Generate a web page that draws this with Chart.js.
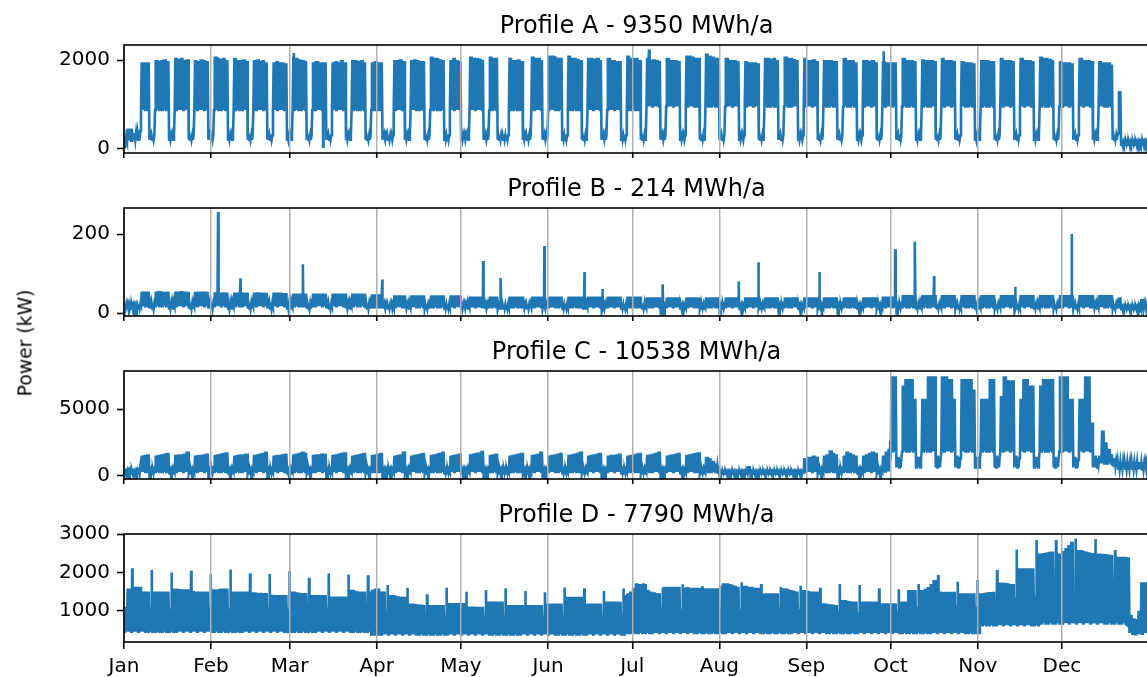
<!DOCTYPE html>
<html>
<head>
<meta charset="utf-8">
<script src="https://cdn.jsdelivr.net/npm/chart.js@4/dist/chart.umd.min.js"></script>
<style>
  html, body { margin: 0; padding: 0; background: #fff; width: 1147px; height: 677px; overflow: hidden; position: relative; }
  canvas.panel { position: absolute; left: 0; }
  #ylabel {
    position: absolute; left: 25px; top: 343px;
    transform: translate(-50%, -50%) rotate(-90deg);
    font-family: 'DejaVu Sans'; font-size: 18.8px; white-space: nowrap; color: #000;
  }
</style>
</head>
<body>
<canvas id="chartA" class="panel" width="1150" height="150" style="top:8px"></canvas>
<canvas id="chartB" class="panel" width="1150" height="150" style="top:171px"></canvas>
<canvas id="chartC" class="panel" width="1150" height="150" style="top:334px"></canvas>
<canvas id="chartD" class="panel" width="1150" height="180" style="top:497px"></canvas>
<div id="ylabel">Power (kW)</div>

<script>
// x axis: days of the year 2015 (day 0 = Thu 1 Jan)
const monthStarts = [0, 31, 59, 90, 120, 151, 181, 212, 243, 273, 304, 334];
const monthLabels = ['Jan', 'Feb', 'Mar', 'Apr', 'May', 'Jun', 'Jul', 'Aug', 'Sep', 'Oct', 'Nov', 'Dec'];

const titles = ['Profile A - 9350 MWh/a', 'Profile B - 214 MWh/a', 'Profile C - 10538 MWh/a', 'Profile D - 7790 MWh/a'];

const yTicksA = [0, 2000];
const yTicksB = [0, 200];
const yTicksC = [0, 5000];
const yTicksD = [1000, 2000, 3000];

// daily highs / lows in kW, one row per calendar week (Mon..Sun)
const aHigh = [
  [250, 450, 450, 350],
  [350, 400, 1950, 1950, 1950, 300, 300],
  [2000, 1980, 2000, 2020, 1980, 300, 300],
  [2050, 2030, 2050, 2000, 2020, 300, 300],
  [2000, 1980, 2020, 2000, 1980, 320, 300],
  [2080, 2050, 2030, 2050, 2000, 300, 300],
  [2050, 2000, 2000, 2020, 1980, 300, 300],
  [2000, 2020, 1980, 2000, 1950, 300, 300],
  [1950, 1980, 1950, 1950, 1930, 300, 300],
  [2050, 2050, 2020, 2000, 1980, 300, 300],
  [1950, 1980, 1950, 1950, 1950, 300, 300],
  [1950, 1980, 1950, 2000, 1950, 300, 300],
  [2000, 2000, 1980, 2000, 1950, 300, 300],
  [1950, 1980, 1950, 1950, 300, 300, 300],
  [300, 2000, 2000, 2020, 1980, 300, 300],
  [2000, 2020, 2000, 1980, 1980, 300, 300],
  [2080, 2050, 2050, 2020, 2000, 300, 300],
  [2000, 2050, 2000, 1980, 300, 300, 300],
  [2080, 2050, 2050, 2030, 2000, 300, 300],
  [2080, 2050, 2050, 300, 300, 300, 300],
  [2050, 2000, 2000, 2020, 1980, 300, 300],
  [300, 2080, 2050, 2050, 2000, 300, 300],
  [2100, 2100, 2080, 2050, 2050, 300, 300],
  [2100, 2050, 2050, 2030, 2000, 300, 300],
  [2050, 2050, 2030, 2050, 2000, 300, 300],
  [2050, 2000, 2000, 1980, 1980, 300, 300],
  [2100, 2050, 2050, 2050, 2000, 300, 300],
  [2050, 2000, 2020, 2000, 1980, 300, 300],
  [2050, 2000, 2000, 2000, 1980, 300, 300],
  [2100, 2100, 2080, 2050, 2050, 300, 300],
  [2150, 2100, 2080, 2050, 2050, 300, 300],
  [2050, 2000, 2000, 2000, 1980, 300, 300],
  [1980, 1950, 1950, 1950, 1930, 300, 300],
  [2050, 2050, 2030, 2050, 2000, 300, 300],
  [2080, 2050, 2050, 2030, 2000, 300, 300],
  [2050, 2000, 2000, 2020, 1980, 300, 300],
  [2000, 2000, 2000, 1980, 1980, 300, 300],
  [2050, 2000, 2000, 2000, 1950, 300, 300],
  [2000, 2000, 1980, 2000, 1950, 300, 300],
  [1980, 1950, 1950, 1950, 1950, 300, 300],
  [2050, 2000, 2000, 2000, 1980, 300, 300],
  [2020, 2000, 2000, 2000, 1980, 300, 300],
  [2050, 2000, 2000, 2000, 1980, 300, 300],
  [1980, 1950, 1950, 1950, 1930, 300, 300],
  [2000, 2000, 2000, 1980, 1980, 300, 300],
  [2050, 2000, 2000, 2000, 1980, 300, 300],
  [2050, 2000, 2000, 2000, 1980, 300, 300],
  [2080, 2050, 2050, 2030, 2000, 300, 300],
  [1980, 1950, 1950, 1950, 1930, 300, 300],
  [2050, 2000, 2000, 2000, 1980, 300, 300],
  [1980, 1950, 1950, 1950, 1900, 300, 300],
  [1300, 150, 150, 150, 150, 150, 150],
  [150, 150, 150, 150]
].flat();

const aLow = [
  [30, 180, 180, 180],
  [200, 200, 870, 870, 870, 200, 200],
  [870, 870, 870, 870, 870, 200, 200],
  [870, 870, 870, 870, 870, 200, 200],
  [870, 870, 870, 870, 870, 200, 200],
  [870, 870, 870, 870, 870, 200, 200],
  [870, 870, 870, 870, 870, 200, 200],
  [870, 870, 870, 870, 870, 200, 200],
  [870, 870, 870, 870, 870, 200, 200],
  [870, 870, 870, 870, 870, 200, 200],
  [870, 870, 870, 870, 870, 200, 200],
  [870, 870, 870, 870, 870, 200, 200],
  [870, 870, 870, 870, 870, 200, 200],
  [870, 870, 870, 870, 200, 200, 200],
  [200, 870, 870, 870, 870, 200, 200],
  [870, 870, 870, 870, 870, 200, 200],
  [870, 870, 870, 870, 870, 200, 200],
  [870, 870, 870, 870, 200, 200, 200],
  [870, 870, 870, 870, 870, 200, 200],
  [870, 870, 870, 200, 200, 200, 200],
  [870, 870, 870, 870, 870, 200, 200],
  [200, 870, 870, 870, 870, 200, 200],
  [870, 870, 870, 870, 870, 200, 200],
  [870, 870, 870, 870, 870, 200, 200],
  [870, 870, 870, 870, 870, 200, 200],
  [870, 870, 870, 870, 870, 200, 200],
  [870, 870, 870, 870, 870, 200, 200],
  [950, 950, 950, 950, 950, 200, 200],
  [950, 950, 950, 950, 950, 200, 200],
  [950, 950, 950, 950, 950, 200, 200],
  [950, 950, 950, 950, 950, 200, 200],
  [950, 950, 950, 950, 950, 200, 200],
  [950, 950, 950, 950, 950, 200, 200],
  [950, 950, 950, 950, 950, 200, 200],
  [950, 950, 950, 950, 950, 200, 200],
  [950, 950, 950, 950, 950, 200, 200],
  [950, 950, 950, 950, 950, 200, 200],
  [950, 950, 950, 950, 950, 200, 200],
  [950, 950, 950, 950, 950, 200, 200],
  [950, 950, 950, 950, 950, 200, 200],
  [950, 950, 950, 950, 950, 200, 200],
  [950, 950, 950, 950, 950, 200, 200],
  [950, 950, 950, 950, 950, 200, 200],
  [950, 950, 950, 950, 950, 200, 200],
  [950, 950, 950, 950, 950, 200, 200],
  [950, 950, 950, 950, 950, 200, 200],
  [950, 950, 950, 950, 950, 200, 200],
  [950, 950, 950, 950, 950, 200, 200],
  [950, 950, 950, 950, 950, 200, 200],
  [950, 950, 950, 950, 950, 200, 200],
  [950, 950, 950, 950, 950, 200, 200],
  [350, 90, 90, 90, 90, 90, 90],
  [90, 90, 90, 90]
].flat();

const aSpikeDays = [60.5, 70.9, 187.0, 270.5];
const aSpikeValues = [2160, 40, 2240, 2200];

const bHigh = [
  [22, 22, 20, 20],
  [20, 22, 55, 55, 55, 25, 25],
  [55, 56, 55, 54, 55, 25, 25],
  [55, 55, 56, 55, 54, 25, 25],
  [54, 55, 55, 55, 54, 25, 25],
  [53, 52, 52, 53, 52, 25, 25],
  [52, 52, 53, 52, 52, 25, 25],
  [52, 53, 52, 52, 51, 25, 25],
  [52, 52, 52, 51, 51, 25, 25],
  [50, 50, 50, 50, 50, 24, 24],
  [50, 50, 50, 50, 50, 24, 24],
  [50, 50, 50, 50, 50, 24, 24],
  [50, 50, 50, 50, 50, 24, 24],
  [48, 48, 48, 48, 22, 22, 22],
  [22, 45, 45, 45, 45, 22, 22],
  [45, 45, 45, 45, 45, 22, 22],
  [45, 45, 45, 45, 45, 22, 22],
  [45, 45, 45, 45, 22, 22, 22],
  [42, 42, 42, 42, 42, 22, 22],
  [42, 42, 42, 22, 22, 22, 22],
  [42, 42, 42, 42, 42, 22, 22],
  [22, 42, 42, 42, 42, 22, 22],
  [42, 42, 42, 42, 42, 22, 22],
  [42, 42, 42, 42, 42, 22, 22],
  [42, 42, 42, 42, 42, 22, 22],
  [42, 42, 42, 42, 42, 22, 22],
  [42, 42, 42, 42, 42, 22, 22],
  [40, 40, 40, 40, 40, 20, 20],
  [40, 40, 40, 40, 40, 20, 20],
  [40, 40, 40, 40, 40, 20, 20],
  [40, 40, 40, 40, 40, 20, 20],
  [40, 40, 40, 40, 40, 20, 20],
  [40, 40, 40, 40, 40, 20, 20],
  [40, 40, 40, 40, 40, 20, 20],
  [40, 40, 40, 40, 40, 20, 20],
  [40, 40, 40, 40, 40, 20, 20],
  [40, 40, 40, 40, 40, 20, 20],
  [40, 40, 40, 40, 40, 20, 20],
  [40, 40, 40, 40, 40, 20, 20],
  [42, 42, 42, 42, 42, 20, 20],
  [46, 46, 46, 46, 46, 22, 22],
  [46, 46, 46, 46, 46, 22, 22],
  [46, 46, 46, 46, 46, 22, 22],
  [46, 46, 46, 46, 46, 22, 22],
  [46, 46, 46, 46, 46, 22, 22],
  [46, 46, 46, 46, 46, 22, 22],
  [46, 46, 46, 46, 46, 22, 22],
  [46, 46, 46, 46, 46, 22, 22],
  [46, 46, 46, 46, 46, 22, 22],
  [46, 46, 46, 46, 46, 22, 22],
  [46, 46, 46, 46, 46, 22, 22],
  [40, 16, 16, 16, 16, 16, 16],
  [18, 36, 22, 18]
].flat();

const bLow = [
  [12, 12, 12, 12],
  [12, 12, 18, 18, 18, 12, 12],
  [18, 18, 18, 18, 18, 12, 12],
  [18, 18, 18, 18, 18, 12, 12],
  [18, 18, 18, 18, 18, 12, 12],
  [18, 18, 18, 18, 18, 12, 12],
  [18, 18, 18, 18, 18, 12, 12],
  [18, 18, 18, 18, 18, 12, 12],
  [18, 18, 18, 18, 18, 12, 12],
  [18, 18, 18, 18, 18, 12, 12],
  [18, 18, 18, 18, 18, 12, 12],
  [18, 18, 18, 18, 18, 12, 12],
  [18, 18, 18, 18, 18, 12, 12],
  [15, 15, 15, 15, 12, 12, 12],
  [12, 15, 15, 15, 15, 12, 12],
  [15, 15, 15, 15, 15, 12, 12],
  [15, 15, 15, 15, 15, 12, 12],
  [15, 15, 15, 15, 12, 12, 12],
  [15, 15, 15, 15, 15, 12, 12],
  [15, 15, 15, 12, 12, 12, 12],
  [15, 15, 15, 15, 15, 12, 12],
  [12, 15, 15, 15, 15, 12, 12],
  [15, 15, 15, 15, 15, 12, 12],
  [15, 15, 15, 15, 15, 12, 12],
  [15, 15, 15, 15, 15, 12, 12],
  [15, 15, 15, 15, 15, 12, 12],
  [15, 15, 15, 15, 15, 12, 12],
  [15, 15, 15, 15, 15, 12, 12],
  [15, 15, 15, 15, 15, 12, 12],
  [15, 15, 15, 15, 15, 12, 12],
  [15, 15, 15, 15, 15, 12, 12],
  [15, 15, 15, 15, 15, 12, 12],
  [15, 15, 15, 15, 15, 12, 12],
  [15, 15, 15, 15, 15, 12, 12],
  [15, 15, 15, 15, 15, 12, 12],
  [15, 15, 15, 15, 15, 12, 12],
  [15, 15, 15, 15, 15, 12, 12],
  [15, 15, 15, 15, 15, 12, 12],
  [15, 15, 15, 15, 15, 12, 12],
  [15, 15, 15, 15, 15, 12, 12],
  [15, 15, 15, 15, 15, 12, 12],
  [15, 15, 15, 15, 15, 12, 12],
  [15, 15, 15, 15, 15, 12, 12],
  [15, 15, 15, 15, 15, 12, 12],
  [15, 15, 15, 15, 15, 12, 12],
  [15, 15, 15, 15, 15, 12, 12],
  [15, 15, 15, 15, 15, 12, 12],
  [15, 15, 15, 15, 15, 12, 12],
  [15, 15, 15, 15, 15, 12, 12],
  [15, 15, 15, 15, 15, 12, 12],
  [15, 15, 15, 15, 15, 12, 12],
  [15, 10, 10, 10, 10, 10, 10],
  [10, 12, 10, 10]
].flat();

const bSpikeDays = [33.5, 41.5, 63.7, 92.0, 127.9, 134.1, 149.7, 164.0, 170.3, 191.8, 218.9, 225.9, 247.6, 274.6, 281.6, 288.5, 317.3, 337.5];
const bSpikeValues = [256, 88, 124, 85, 132, 89, 170, 104, 61, 73, 80, 129, 104, 162, 181, 94, 67, 200];

const cHigh = [
  [300, 350, 350, 300],
  [350, 600, 1500, 1550, 1600, 400, 400],
  [1500, 1550, 1600, 1650, 1700, 400, 400],
  [1550, 1600, 1600, 1650, 1800, 400, 400],
  [1500, 1550, 1550, 1600, 1650, 400, 400],
  [1550, 1600, 1650, 1700, 1750, 400, 400],
  [1500, 1550, 1600, 1600, 1650, 400, 400],
  [1550, 1600, 1650, 1700, 1800, 400, 400],
  [1500, 1550, 1550, 1600, 1650, 400, 400],
  [1600, 1650, 1700, 1800, 1700, 400, 400],
  [1550, 1600, 1600, 1650, 1650, 400, 400],
  [1550, 1600, 1650, 1700, 1750, 400, 400],
  [1500, 1550, 1600, 1650, 1700, 400, 400],
  [1550, 1600, 1650, 1700, 400, 400, 400],
  [400, 1500, 1550, 1600, 1800, 400, 400],
  [1500, 1550, 1600, 1650, 1700, 400, 400],
  [1550, 1600, 1650, 1700, 1800, 400, 400],
  [1500, 1550, 1600, 1650, 400, 400, 400],
  [1600, 1650, 1700, 1750, 1850, 400, 400],
  [1550, 1600, 1650, 400, 400, 400, 400],
  [1500, 1550, 1600, 1650, 1700, 400, 400],
  [400, 1550, 1600, 1650, 1800, 400, 400],
  [1500, 1550, 1600, 1650, 1700, 400, 400],
  [1550, 1600, 1650, 1700, 1800, 400, 400],
  [1500, 1550, 1600, 1650, 1700, 400, 400],
  [1500, 1550, 1550, 1600, 1650, 400, 400],
  [1500, 1550, 1600, 1650, 1700, 400, 400],
  [1550, 1600, 1650, 1700, 1800, 400, 400],
  [1500, 1550, 1600, 1650, 1700, 400, 400],
  [1550, 1600, 1650, 1700, 1750, 400, 400],
  [1400, 1300, 1100, 900, 700, 280, 280],
  [280, 280, 280, 280, 280, 280, 280],
  [280, 700, 280, 280, 280, 280, 280],
  [280, 280, 280, 280, 280, 280, 280],
  [280, 280, 280, 280, 280, 280, 280],
  [1300, 1400, 1400, 1500, 1400, 400, 400],
  [1500, 1600, 1900, 1700, 1600, 400, 400],
  [1500, 1800, 1700, 1600, 1500, 400, 400],
  [1500, 1600, 1700, 1800, 1700, 400, 400],
  [1500, 1800, 2000, 7500, 7500, 1400, 1200],
  [6800, 7300, 7300, 7300, 5800, 1400, 1200],
  [5800, 5800, 7500, 7500, 7500, 1500, 1300],
  [7500, 7500, 7300, 7300, 5800, 1500, 1300],
  [7300, 7300, 7300, 7300, 6500, 1400, 1200],
  [5800, 5800, 5800, 7300, 7300, 1500, 1300],
  [6000, 7500, 7200, 7200, 7200, 1500, 1300],
  [5800, 7300, 7300, 6800, 6800, 1400, 1200],
  [6800, 7300, 7300, 7300, 7300, 1400, 1200],
  [7500, 7500, 7500, 5800, 5800, 1400, 1200],
  [5800, 5800, 7500, 7500, 4000, 1500, 1300],
  [1500, 3400, 2500, 2000, 1600, 1300, 1100],
  [1000, 1000, 1000, 1000, 1000, 1000, 1000],
  [1000, 950, 900, 900]
].flat();

const cLow = [
  [150, 150, 150, 150],
  [150, 150, 250, 250, 250, 150, 150],
  [250, 250, 250, 250, 250, 150, 150],
  [250, 250, 250, 250, 250, 150, 150],
  [250, 250, 250, 250, 250, 150, 150],
  [250, 250, 250, 250, 250, 150, 150],
  [250, 250, 250, 250, 250, 150, 150],
  [250, 250, 250, 250, 250, 150, 150],
  [250, 250, 250, 250, 250, 150, 150],
  [250, 250, 250, 250, 250, 150, 150],
  [250, 250, 250, 250, 250, 150, 150],
  [250, 250, 250, 250, 250, 150, 150],
  [250, 250, 250, 250, 250, 150, 150],
  [250, 250, 250, 250, 150, 150, 150],
  [150, 250, 250, 250, 250, 150, 150],
  [250, 250, 250, 250, 250, 150, 150],
  [250, 250, 250, 250, 250, 150, 150],
  [250, 250, 250, 250, 150, 150, 150],
  [250, 250, 250, 250, 250, 150, 150],
  [250, 250, 250, 150, 150, 150, 150],
  [250, 250, 250, 250, 250, 150, 150],
  [150, 250, 250, 250, 250, 150, 150],
  [250, 250, 250, 250, 250, 150, 150],
  [250, 250, 250, 250, 250, 150, 150],
  [250, 250, 250, 250, 250, 150, 150],
  [250, 250, 250, 250, 250, 150, 150],
  [250, 250, 250, 250, 250, 150, 150],
  [250, 250, 250, 250, 250, 150, 150],
  [250, 250, 250, 250, 250, 150, 150],
  [250, 250, 250, 250, 250, 150, 150],
  [250, 250, 250, 250, 200, 130, 130],
  [130, 130, 130, 130, 130, 130, 130],
  [130, 130, 130, 130, 130, 130, 130],
  [130, 130, 130, 130, 130, 130, 130],
  [130, 130, 130, 130, 130, 130, 130],
  [250, 250, 250, 250, 250, 150, 150],
  [250, 250, 250, 250, 250, 150, 150],
  [250, 250, 250, 250, 250, 150, 150],
  [250, 250, 250, 250, 250, 150, 150],
  [300, 300, 300, 1800, 1800, 600, 600],
  [1800, 1800, 1800, 1800, 1800, 600, 600],
  [1800, 1800, 1800, 1800, 1800, 600, 600],
  [1800, 1800, 1800, 1800, 1800, 600, 600],
  [1800, 1800, 1800, 1800, 1800, 600, 600],
  [1800, 1800, 1800, 1800, 1800, 600, 600],
  [1800, 1800, 1800, 1800, 1800, 600, 600],
  [1800, 1800, 1800, 1800, 1800, 600, 600],
  [1800, 1800, 1800, 1800, 1800, 600, 600],
  [1800, 1800, 1800, 1800, 1800, 600, 600],
  [1800, 1800, 1800, 1800, 1800, 600, 600],
  [900, 900, 900, 900, 900, 700, 700],
  [500, 500, 500, 500, 500, 500, 500],
  [450, 450, 450, 450]
].flat();

const cSpikeDays = [];
const cSpikeValues = [];

const dHigh = [
  [1100, 1580, 1050, 1627],
  [1627, 1627, 1500, 1500, 1500, 1050, 1500],
  [1500, 1500, 1500, 1500, 1500, 1050, 1580],
  [1580, 1570, 1560, 1560, 1560, 1050, 1520],
  [1500, 1500, 1500, 1500, 1500, 1050, 1560],
  [1560, 1560, 1580, 1580, 1580, 1050, 1500],
  [1500, 1500, 1500, 1500, 1500, 1050, 1480],
  [1480, 1470, 1470, 1460, 1460, 1050, 1420],
  [1410, 1410, 1410, 1410, 1410, 1050, 1500],
  [1500, 1480, 1470, 1460, 1460, 1050, 1410],
  [1410, 1410, 1410, 1410, 1410, 1050, 1370],
  [1370, 1370, 1370, 1370, 1370, 1000, 1550],
  [1550, 1520, 1500, 1500, 1500, 1000, 1500],
  [1550, 1580, 1580, 1500, 1500, 950, 1410],
  [1410, 1400, 1380, 1370, 1366, 900, 1190],
  [1190, 1180, 1170, 1160, 1150, 850, 1150],
  [1150, 1150, 1150, 1150, 1150, 850, 1200],
  [1200, 1200, 1200, 1200, 1200, 850, 1110],
  [1110, 1110, 1106, 1106, 1106, 850, 1240],
  [1240, 1240, 1240, 1240, 1240, 850, 1150],
  [1150, 1150, 1150, 1150, 1150, 850, 1150],
  [1150, 1150, 1150, 1150, 1150, 850, 1190],
  [1190, 1190, 1190, 1190, 1190, 850, 1366],
  [1366, 1366, 1366, 1366, 1366, 850, 1190],
  [1190, 1190, 1190, 1190, 1190, 850, 1240],
  [1240, 1240, 1240, 1240, 1240, 900, 1410],
  [1453, 1500, 1600, 1715, 1700, 1050, 1697],
  [1540, 1500, 1480, 1460, 1453, 1050, 1627],
  [1627, 1627, 1627, 1627, 1627, 1050, 1600],
  [1620, 1600, 1600, 1600, 1600, 1050, 1584],
  [1584, 1584, 1584, 1584, 1584, 1050, 1715],
  [1715, 1700, 1680, 1650, 1627, 1050, 1650],
  [1650, 1627, 1627, 1600, 1600, 1050, 1453],
  [1453, 1453, 1453, 1453, 1453, 1050, 1584],
  [1584, 1560, 1540, 1520, 1500, 1050, 1540],
  [1540, 1520, 1500, 1500, 1500, 1050, 1193],
  [1193, 1180, 1170, 1160, 1150, 950, 1280],
  [1280, 1260, 1250, 1240, 1240, 950, 1240],
  [1240, 1240, 1240, 1240, 1240, 950, 1193],
  [1193, 1193, 1193, 1193, 1193, 950, 1240],
  [1240, 1240, 1540, 1540, 1540, 1100, 1540],
  [1540, 1580, 1620, 1700, 1800, 1100, 1500],
  [1497, 1497, 1497, 1497, 1497, 1100, 1453],
  [1453, 1453, 1453, 1453, 1453, 1100, 1453],
  [1453, 1470, 1480, 1490, 1496, 1200, 1740],
  [1740, 1730, 1720, 1700, 1697, 1300, 2107],
  [2107, 2107, 2107, 2107, 2107, 1400, 2498],
  [2498, 2510, 2520, 2540, 2550, 1400, 2498],
  [2498, 2560, 2640, 2720, 2800, 1400, 2585],
  [2585, 2570, 2550, 2530, 2510, 1400, 2498],
  [2498, 2490, 2480, 2470, 2455, 1400, 2410],
  [2410, 2410, 2410, 2400, 888, 800, 780],
  [1000, 1741, 1741, 1741]
].flat();

const dLow = [
  [450, 450, 450, 450],
  [450, 450, 450, 450, 450, 450, 450],
  [450, 450, 450, 450, 450, 450, 450],
  [450, 450, 450, 450, 450, 450, 450],
  [450, 450, 450, 450, 450, 450, 450],
  [450, 450, 450, 450, 450, 450, 450],
  [450, 450, 450, 450, 450, 450, 450],
  [450, 450, 450, 450, 450, 450, 450],
  [450, 450, 450, 450, 450, 450, 450],
  [450, 450, 450, 450, 450, 450, 450],
  [450, 450, 450, 450, 450, 450, 450],
  [450, 450, 450, 450, 450, 450, 450],
  [450, 450, 450, 450, 450, 450, 450],
  [380, 380, 380, 380, 380, 380, 380],
  [380, 380, 380, 380, 380, 380, 380],
  [380, 380, 380, 380, 380, 380, 380],
  [380, 380, 380, 380, 380, 380, 380],
  [380, 380, 380, 380, 380, 380, 380],
  [380, 380, 380, 380, 380, 380, 380],
  [380, 380, 380, 380, 380, 380, 380],
  [380, 380, 380, 380, 380, 380, 380],
  [380, 380, 380, 380, 380, 380, 380],
  [380, 380, 380, 380, 380, 380, 380],
  [380, 380, 380, 380, 380, 380, 380],
  [380, 380, 380, 380, 380, 380, 380],
  [380, 380, 380, 380, 380, 380, 380],
  [420, 420, 420, 420, 420, 420, 420],
  [420, 420, 420, 420, 420, 420, 420],
  [420, 420, 420, 420, 420, 420, 420],
  [420, 420, 420, 420, 420, 420, 420],
  [420, 420, 420, 420, 420, 420, 420],
  [420, 420, 420, 420, 420, 420, 420],
  [420, 420, 420, 420, 420, 420, 420],
  [420, 420, 420, 420, 420, 420, 420],
  [420, 420, 420, 420, 420, 420, 420],
  [420, 420, 420, 420, 420, 420, 420],
  [420, 420, 420, 420, 420, 420, 420],
  [420, 420, 420, 420, 420, 420, 420],
  [420, 420, 420, 420, 420, 420, 420],
  [420, 420, 420, 420, 420, 420, 420],
  [420, 420, 420, 420, 420, 420, 420],
  [420, 420, 420, 420, 420, 420, 420],
  [420, 420, 420, 420, 420, 420, 420],
  [420, 420, 420, 420, 420, 420, 420],
  [620, 620, 620, 620, 620, 620, 620],
  [620, 620, 620, 620, 620, 620, 620],
  [620, 620, 620, 620, 620, 620, 620],
  [670, 670, 670, 670, 670, 670, 670],
  [670, 670, 670, 670, 670, 670, 670],
  [670, 670, 670, 670, 670, 670, 670],
  [670, 670, 670, 670, 670, 670, 670],
  [670, 670, 670, 600, 420, 400, 380],
  [380, 400, 420, 420]
].flat();

const dSpikeDays = [2.9, 9.9, 16.9, 23.9, 30.9, 37.9, 44.9, 51.9, 58.9, 65.9, 72.9, 79.9, 86.9, 93.9, 100.9, 107.9, 114.9,
  121.9, 128.9, 135.9, 142.9, 149.9, 156.9, 163.9, 170.9, 177.9, 184.9, 191.9, 198.9, 205.9, 212.9, 219.9, 226.9, 233.9,
  240.9, 247.9, 254.9, 261.9, 268.9, 275.9, 282.9, 289.9, 296.9, 303.9, 310.9, 317.9, 324.9, 331.9, 338.9, 345.9, 352.9];
const dSpikeValues = [2107, 2063, 2002, 2044, 1950, 2080, 1976, 1963, 2037, 1862, 1976, 1950, 1924, 1671, 1601, 1428, 1601,
  1496, 1540, 1584, 1514, 1480, 1610, 1584, 1514, 1584, 1715, 1600, 1690, 1640, 1660, 1741, 1700, 1620,
  1650, 1600, 1697, 1671, 1584, 1562, 1697, 1932, 1758, 1802, 2063, 2603, 2846, 2846, 2890, 2872, 2585];

// daily low/high pairs become a zig-zag line, extra single-hour peaks are merged in by position
function buildPoints(lows, highs, spikeDays, spikeValues) {
  const pts = [];
  for (let d = 0; d < highs.length; d++) {
    pts.push({x: d + 0.05, y: lows[d]}, {x: d + 0.3, y: highs[d]},
             {x: d + 0.55, y: lows[d]}, {x: d + 0.8, y: highs[d]});
  }
  spikeDays.forEach((d, i) => pts.push({x: d, y: spikeValues[i]}));
  return pts.sort((a, b) => a.x - b.x);
}

// matplotlib-like box around each plot area
const frame = {
  id: 'frame',
  afterDraw(chart) {
    const {ctx, chartArea: a} = chart;
    ctx.save();
    ctx.strokeStyle = '#000';
    ctx.lineWidth = 1.6;
    ctx.strokeRect(a.left, a.top, a.right - a.left, a.bottom - a.top);
    ctx.restore();
  }
};

function makePanel(id, title, points, yMin, yMax, yTicks, showMonths) {
  new Chart(document.getElementById(id), {
    type: 'line',
    data: {
      datasets: [{
        data: points,
        borderColor: '#1f77b4',
        borderWidth: 2.6,
        pointRadius: 0,
        fill: false,
        tension: 0
      }]
    },
    options: {
      responsive: false,
      animation: false,
      devicePixelRatio: 1,
      layout: {padding: {left: 0, right: 1, top: 0, bottom: 0}},
      plugins: {
        legend: {display: false},
        tooltip: {enabled: false},
        title: {
          display: true,
          fullSize: false,
          text: title,
          color: '#000',
          font: {family: 'DejaVu Sans', size: 24, weight: 'normal', lineHeight: '28px'},
          padding: {top: 5, bottom: 4}
        }
      },
      scales: {
        x: {
          type: 'linear',
          min: 0,
          max: 365,
          afterBuildTicks: s => { s.ticks = monthStarts.map(v => ({value: v})); },
          afterFit: s => { s.height = showMonths ? 35 : 5; s.paddingLeft = 0; s.paddingRight = 0; },
          grid: {color: '#b0b0b0', lineWidth: 1.5, z: 1, tickColor: '#000', tickWidth: 1.6, tickLength: 7},
          border: {display: false},
          ticks: {
            display: showMonths,
            autoSkip: false,
            maxRotation: 0,
            padding: 6,
            color: '#000',
            font: {family: 'DejaVu Sans', size: 20},
            callback: (v, i) => monthLabels[i]
          }
        },
        y: {
          min: yMin,
          max: yMax,
          afterBuildTicks: s => { s.ticks = yTicks.map(v => ({value: v})); },
          afterFit: s => { s.width = 124; s.paddingTop = 0; s.paddingBottom = 0; },
          grid: {drawOnChartArea: false, tickColor: '#000', tickWidth: 1.6, tickLength: 7},
          border: {display: false},
          ticks: {
            padding: 7,
            color: '#000',
            font: {family: 'DejaVu Sans', size: 20},
            callback: v => String(v)
          }
        }
      }
    },
    plugins: [frame]
  });
}

makePanel('chartA', titles[0], buildPoints(aLow, aHigh, aSpikeDays, aSpikeValues), -100, 2340, yTicksA, false);
makePanel('chartB', titles[1], buildPoints(bLow, bHigh, bSpikeDays, bSpikeValues), -7, 266, yTicksB, false);
makePanel('chartC', titles[2], buildPoints(cLow, cHigh, cSpikeDays, cSpikeValues), -280, 7900, yTicksC, false);
makePanel('chartD', titles[3], buildPoints(dLow, dHigh, dSpikeDays, dSpikeValues), 183, 3005, yTicksD, true);
</script>
</body>
</html>
